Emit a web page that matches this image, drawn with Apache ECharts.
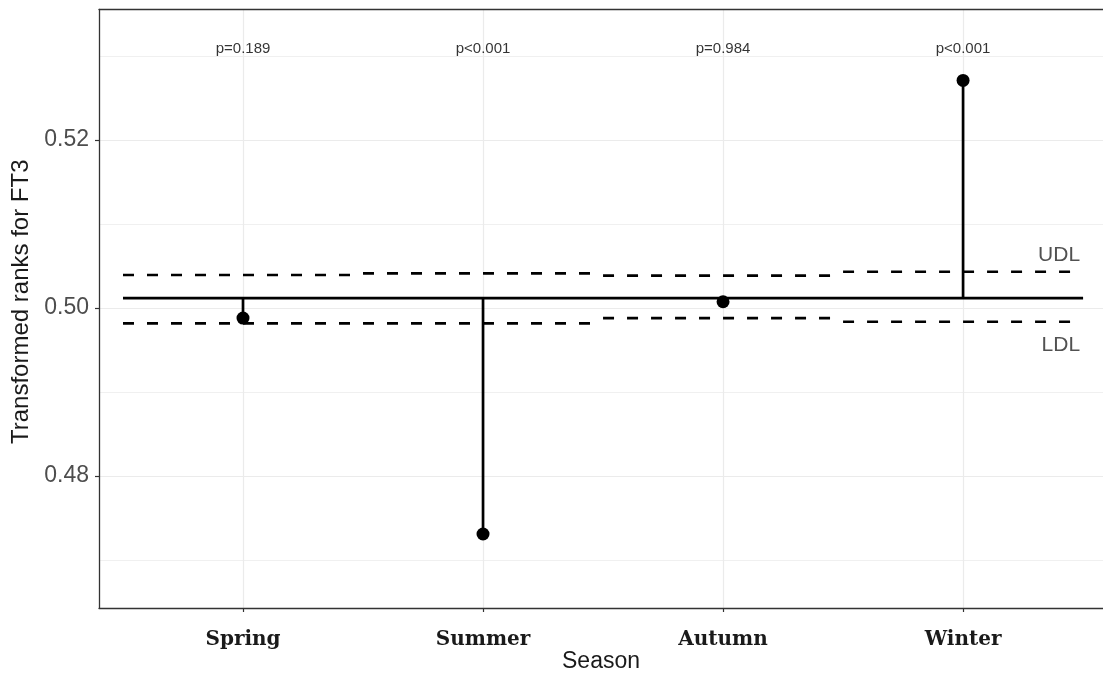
<!DOCTYPE html>
<html>
<head>
<meta charset="utf-8">
<title>Transformed ranks for FT3 by season</title>
<script src="https://cdn.jsdelivr.net/npm/echarts@6/dist/echarts.min.js"></script>
<style>
    html, body { margin: 0; padding: 0; background: #fff; }
    #chart { width: 1103px; height: 675px; }
</style>
</head>
<body>
<div id="chart"></div>
<script>
    var seasons = ['Spring', 'Summer', 'Autumn', 'Winter'];
    var rankMeans = [0.4988, 0.4731, 0.50075, 0.5271];
    var centerLine = 0.50119;
    var udl = [0.50393, 0.50413, 0.50387, 0.50432];
    var ldl = [0.49818, 0.49818, 0.49881, 0.49837];
    var pLabels = ['p=0.189', 'p<0.001', 'p=0.984', 'p<0.001'];
    var pLabelY = 0.5309;
    var yTicks = [0.48, 0.50, 0.52];
    var yMinor = [0.47, 0.49, 0.51, 0.53];
    var limitNames = ['UDL', 'LDL'];
    var limitLabelY = [0.50631, 0.49559];

    var chart = echarts.init(document.getElementById('chart'));
    var font = 'Liberation Sans, Arial, sans-serif';
    var xIdx = seasons.map(function (s, i) { return i; });
    var xMin = -0.6, xMax = 3.583;
    var series = [];

    // panel grid lines, theme_bw style
    var gridLines = [];
    yTicks.forEach(function (v) {
        gridLines.push({ yAxis: v, lineStyle: { color: '#ebebeb', width: 1.2, type: 'solid' } });
    });
    yMinor.forEach(function (v) {
        gridLines.push({ yAxis: v, lineStyle: { color: '#f0f0f0', width: 1, type: 'solid' } });
    });
    xIdx.forEach(function (i) {
        gridLines.push({ xAxis: i, lineStyle: { color: '#ebebeb', width: 1.2, type: 'solid' } });
    });
    series.push({
        type: 'line',
        data: [],
        z: 0,
        silent: true,
        markLine: {
            z: 0,
            symbol: 'none',
            silent: true,
            animation: false,
            label: { show: false },
            emphasis: { disabled: true },
            data: gridLines
        }
    });

    // centre line
    series.push({
        type: 'line',
        data: [[-0.5, centerLine], [seasons.length - 0.5, centerLine]],
        showSymbol: false,
        lineStyle: { color: '#000', width: 2.7 },
        z: 3
    });

    // decision limits per season
    xIdx.forEach(function (i) {
        [udl, ldl].forEach(function (lim) {
            series.push({
                type: 'line',
                data: [[i - 0.5, lim[i]], [i + 0.5, lim[i]]],
                showSymbol: false,
                lineStyle: { color: '#000', width: 2.7, type: [11, 13] },
                z: 3
            });
        });
        // stem from centre line to the point
        series.push({
            type: 'line',
            data: [[i, centerLine], [i, rankMeans[i]]],
            showSymbol: false,
            lineStyle: { color: '#000', width: 2.7 },
            z: 4
        });
    });

    series.push({
        type: 'scatter',
        data: xIdx.map(function (i) { return [i, rankMeans[i]]; }),
        symbolSize: 13,
        itemStyle: { color: '#000', opacity: 1 },
        z: 5
    });

    // p values
    series.push({
        type: 'scatter',
        data: xIdx.map(function (i) { return [i, pLabelY, pLabels[i]]; }),
        symbolSize: 0,
        label: {
            show: true,
            position: 'inside',
            formatter: function (p) { return p.value[2]; },
            fontFamily: font,
            fontSize: 15,
            color: '#000'
        },
        z: 5
    });

    // UDL / LDL labels
    series.push({
        type: 'scatter',
        data: limitNames.map(function (n, k) { return [seasons.length - 0.5, limitLabelY[k], n]; }),
        symbolSize: 0,
        label: {
            show: true,
            position: 'left',
            distance: 3,
            formatter: function (p) { return p.value[2]; },
            fontFamily: font,
            fontSize: 21,
            color: '#262626'
        },
        z: 5
    });

    var option = {
        animation: false,
        backgroundColor: '#fff',
        grid: {
            left: 99,
            right: 0,
            top: 9.5,
            bottom: 67,
            show: false,
            outerBoundsMode: 'none'
        },
        xAxis: [{
            type: 'value',
            min: xMin,
            max: xMax,
            axisLine: { show: true, onZero: false, lineStyle: { color: '#333', width: 1.3 } },
            splitLine: { show: false },
            axisTick: {
                show: true,
                customValues: xIdx,
                length: 4,
                lineStyle: { color: '#333', width: 1.2 }
            },
            axisLabel: {
                customValues: xIdx,
                formatter: function (v) { return seasons[Math.round(v)]; },
                fontFamily: 'DejaVu Serif, serif',
                fontWeight: 'bold',
                fontSize: 20,
                color: '#1a1a1a',
                margin: 22
            },
            name: 'Season',
            nameLocation: 'middle',
            nameGap: 42,
            nameMoveOverlap: false,
            nameTextStyle: { fontFamily: font, fontSize: 23, color: '#1a1a1a' }
        }, {
            // top edge of the panel border
            type: 'value',
            position: 'top',
            min: xMin,
            max: xMax,
            axisLine: { show: true, onZero: false, lineStyle: { color: '#333', width: 1.3 } },
            axisTick: { show: false },
            axisLabel: { show: false },
            splitLine: { show: false }
        }],
        yAxis: {
            type: 'value',
            min: 0.46429,
            max: 0.53554,
            axisLine: { show: true, onZero: false, lineStyle: { color: '#333', width: 1.3 } },
            splitLine: { show: false },
            axisTick: {
                show: true,
                customValues: yTicks,
                length: 4,
                lineStyle: { color: '#333', width: 1.2 }
            },
            axisLabel: {
                customValues: yTicks,
                formatter: function (v) { return v.toFixed(2); },
                fontFamily: font,
                fontSize: 23,
                color: '#4d4d4d',
                margin: 10
            },
            name: 'Transformed ranks for FT3',
            nameLocation: 'middle',
            nameGap: 66,
            nameMoveOverlap: false,
            nameTextStyle: { fontFamily: font, fontSize: 24, color: '#1a1a1a', padding: [0, 0, 0, 14] }
        },
        series: series
    };
    chart.setOption(option);
</script>
</body>
</html>
